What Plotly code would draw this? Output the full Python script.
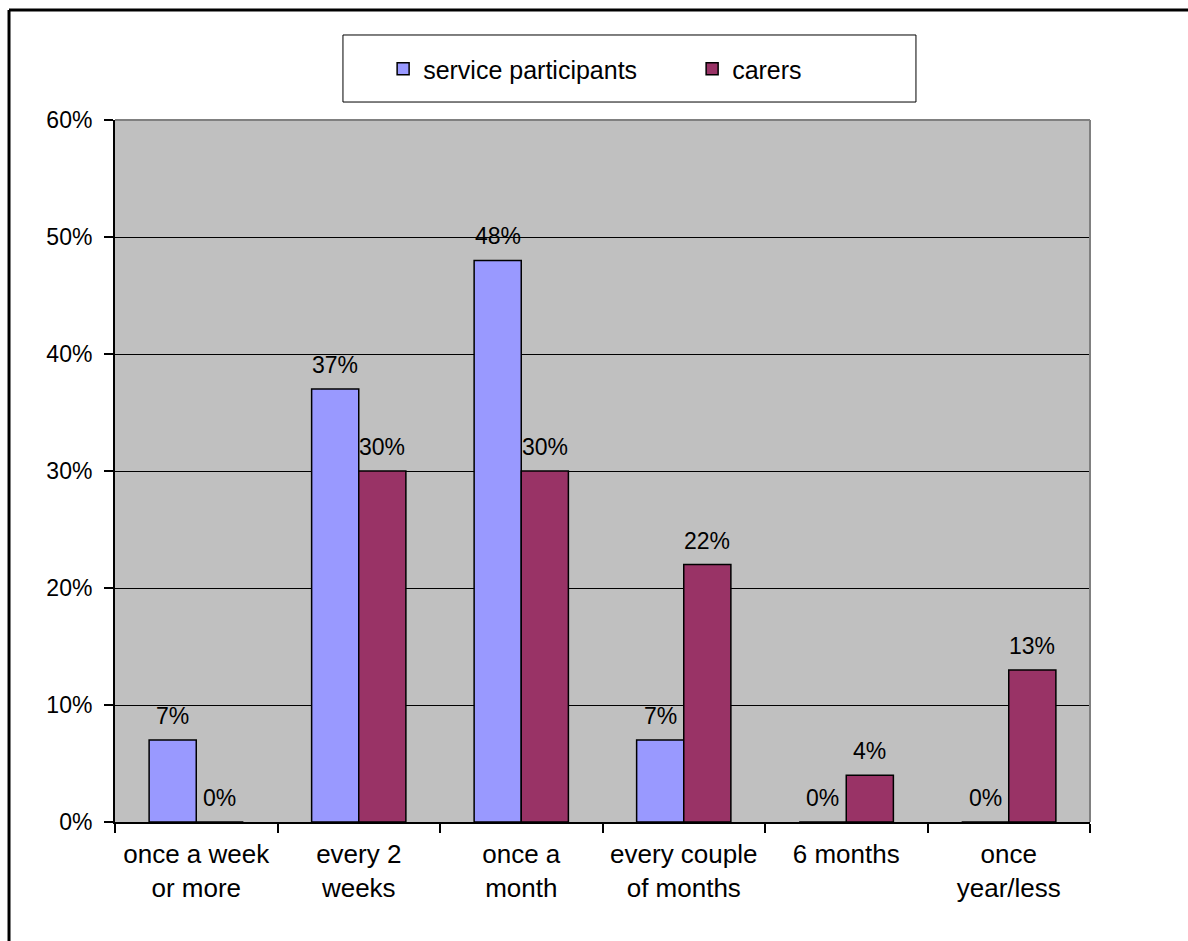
import plotly.graph_objects as go

categories = ["once a week<br>or more", "every 2<br>weeks", "once a<br>month",
              "every couple<br>of months", "6 months", "once<br>year/less"]
service_participants = [7, 37, 48, 7, 0, 0]
carers = [0, 30, 30, 22, 4, 13]
y_ticks = [0, 10, 20, 30, 40, 50, 60]
y_tick_labels = ["0%", "10%", "20%", "30%", "40%", "50%", "60%"]

FONT = "Liberation Sans, Arial, sans-serif"
BAR_HALF = 23.6  # px offset of each bar centre from the category centre

fig = go.Figure()
fig.add_trace(go.Bar(
    name="service participants", x=categories, y=service_participants,
    marker=dict(color="#9999FF", line=dict(color="black", width=1.5)),
))
fig.add_trace(go.Bar(
    name="carers", x=categories, y=carers,
    marker=dict(color="#993366", line=dict(color="black", width=1.5)),
))

annotations = []
for series, shift in ((service_participants, -BAR_HALF), (carers, BAR_HALF)):
    for cat, v in zip(categories, series):
        annotations.append(dict(
            x=cat, y=v, xref="x", yref="y", text=f"{v}%", showarrow=False,
            xanchor="center", yanchor="middle", xshift=shift, yshift=24,
            font=dict(size=23, family=FONT, color="black"),
        ))

fig.update_layout(
    width=1188, height=941,
    margin=dict(l=115, r=98, t=120, b=119, autoexpand=False),
    paper_bgcolor="white", plot_bgcolor="#C0C0C0",
    font=dict(family=FONT, size=22, color="black"),
    barmode="group", bargap=0.42, bargroupgap=0,
    showlegend=True,
    legend=dict(
        orientation="h", x=0.275, xanchor="left", y=1.0726, yanchor="middle",
        entrywidth=264, entrywidthmode="pixels",
        bgcolor="rgba(0,0,0,0)", borderwidth=0,
        font=dict(size=25, family=FONT, color="black"),
    ),
    xaxis=dict(
        tickson="boundaries", ticks="outside", ticklen=9, tickwidth=2, tickcolor="black",
        showline=True, linecolor="black", linewidth=2,
        tickfont=dict(size=26, family=FONT, color="black"),
        ticklabelstandoff=8,
        showgrid=False,
    ),
    yaxis=dict(
        range=[0, 60], tickvals=y_ticks, ticktext=y_tick_labels,
        ticks="outside", ticklen=9, tickwidth=1.5, tickcolor="black",
        showline=True, linecolor="black", linewidth=2,
        showgrid=True, gridcolor="black", gridwidth=1,
        tickfont=dict(size=23, family=FONT, color="black"),
        ticklabelstandoff=7,
        zeroline=False,
    ),
    annotations=annotations,
    shapes=[
        # plot area top/right border (gray)
        dict(type="line", xref="paper", yref="paper", x0=0, x1=1, y0=1, y1=1,
             line=dict(color="#808080", width=2), layer="above"),
        dict(type="line", xref="paper", yref="paper", x0=1, x1=1, y0=0, y1=1,
             line=dict(color="#808080", width=2), layer="above"),
        # legend box
        dict(type="rect", xref="paper", yref="paper", x0=0.2338, x1=0.8215,
             y0=1.0256, y1=1.1211, line=dict(color="black", width=1)),
        # outer chart frame (left and top visible)
        dict(type="line", xref="paper", yref="paper", x0=-0.1087, x1=-0.1087,
             y0=-0.2, y1=1.1567, line=dict(color="black", width=3)),
        dict(type="line", xref="paper", yref="paper", x0=-0.1087, x1=1.12,
             y0=1.1567, y1=1.1567, line=dict(color="black", width=3)),
    ],
)

fig.write_html("out.html")
